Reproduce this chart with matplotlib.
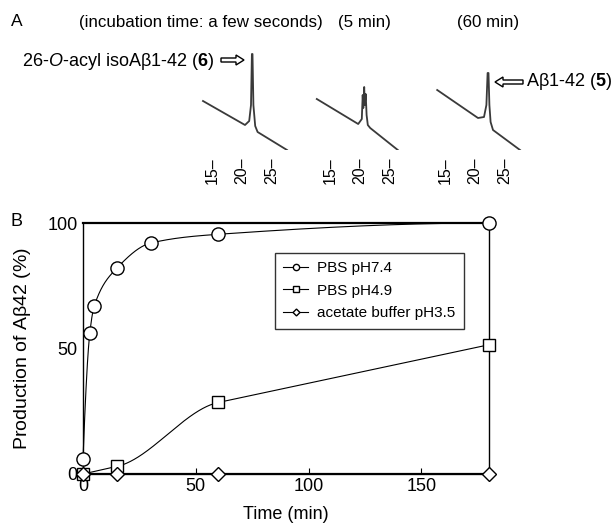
import numpy as np
import matplotlib
matplotlib.use("Agg")
import matplotlib.pyplot as plt
import matplotlib.patches as mpatches

plt.rcParams['font.family'] = ['Liberation Sans', 'DejaVu Sans']
plt.rcParams['mathtext.fontset'] = 'custom'
plt.rcParams['mathtext.rm'] = 'Liberation Sans'
plt.rcParams['mathtext.it'] = 'Liberation Sans:italic'
plt.rcParams['mathtext.bf'] = 'Liberation Sans:bold'

W, H = 616, 524

# panel B data (time in min, production in %)
t_pbs74 = [0, 3, 5, 15, 30, 60, 180]
y_pbs74 = [6, 56, 67, 82, 92, 95.5, 100]
t_pbs49 = [0, 15, 60, 180]
y_pbs49 = [0, 3, 28.5, 51.5]
t_acet = [0, 15, 60, 180]
y_acet = [0, 0, 0, 0]
series_labels = ['PBS pH7.4', 'PBS pH4.9', 'acetate buffer pH3.5']

# panel A chromatogram traces (retention time in min, signal in a.u.)
trace_t = [
    [13.5, 20.5, 21.2, 21.5, 21.65, 21.75, 21.9, 22.2, 22.6, 27.5],
    [12.8, 19.7, 20.3, 20.45, 20.55, 20.7, 20.8, 20.95, 21.1, 21.3, 21.7, 26.3],
    [13.7, 20.5, 21.5, 21.9, 22.1, 22.25, 22.4, 22.6, 23.0, 27.5],
]
trace_s = [
    [49, 25, 29, 45, 96, 96, 45, 24, 18, 0],
    [51, 26, 31, 55, 42, 63, 45, 56, 35, 25, 22, 0],
    [60, 32, 33, 45, 77, 77, 45, 28, 20, 0],
]
trace_xlim = [(13.0, 28.0), (12.5, 27.5), (13.0, 28.0)]
trace_left_px = [200, 315, 433]
rt_ticks = [15, 20, 25]
incubation = ['(incubation time: a few seconds)', '(5 min)', '(60 min)']


def smooth(x, y, xs, mode='pchip'):
    # monotone cubic through the points; 'min' keeps slopes flatter
    x = np.asarray(x, float)
    y = np.asarray(y, float)
    h = np.diff(x)
    d = np.diff(y) / h
    n = len(x)
    m = np.zeros(n)
    for k in range(1, n - 1):
        if d[k - 1] * d[k] > 0:
            if mode == 'min':
                m[k] = min(d[k - 1], d[k], key=abs)
            else:
                w1 = 2 * h[k] + h[k - 1]
                w2 = h[k] + 2 * h[k - 1]
                m[k] = (w1 + w2) / (w1 / d[k - 1] + w2 / d[k])

    def end(h0, h1, d0, d1):
        if mode == 'min':
            return d0
        mm = ((2 * h0 + h1) * d0 - h0 * d1) / (h0 + h1)
        if np.sign(mm) != np.sign(d0):
            mm = 0.0
        elif np.sign(d0) != np.sign(d1) and abs(mm) > 3 * abs(d0):
            mm = 3 * d0
        return mm
    m[0] = end(h[0], h[1], d[0], d[1])
    m[-1] = end(h[-1], h[-2], d[-1], d[-2])
    idx = np.clip(np.searchsorted(x, xs) - 1, 0, n - 2)
    hh = h[idx]
    t = (xs - x[idx]) / hh
    h00 = 2 * t**3 - 3 * t**2 + 1
    h10 = t**3 - 2 * t**2 + t
    h01 = -2 * t**3 + 3 * t**2
    h11 = t**3 - t**2
    return h00 * y[idx] + h10 * hh * m[idx] + h01 * y[idx + 1] + h11 * hh * m[idx + 1]


def px_rect(left, top, right, bottom):
    return [left / W, 1 - bottom / H, (right - left) / W, (bottom - top) / H]


fig = plt.figure(figsize=(W / 100, H / 100), dpi=100)

# overlay in pixel coordinates for labels and arrows
ov = fig.add_axes([0, 0, 1, 1])
ov.set_xlim(0, W)
ov.set_ylim(H, 0)
ov.axis('off')

ov.text(11, 22, 'A', fontsize=12.5, va='center', ha='left')
ov.text(10, 222, 'B', fontsize=13, va='center', ha='left')
ov.text(201, 22, incubation[0], fontsize=12.2, va='center', ha='center')
ov.text(364, 22, incubation[1], fontsize=12.2, va='center', ha='center')
ov.text(488, 22, incubation[2], fontsize=12.2, va='center', ha='center')
ov.text(214, 61, r'26-$\mathit{O}$-acyl isoA$\mathrm{\beta}$1-42 ($\mathbf{6}$)',
        fontsize=13, va='center', ha='right')
ov.text(526, 82, r'A$\mathrm{\beta}$1-42 ($\mathbf{5}$)',
        fontsize=13, va='center', ha='left')
ov.add_patch(mpatches.FancyArrow(221, 60, 23, 0, width=4, head_width=10,
                                 head_length=8, length_includes_head=True,
                                 fc='white', ec='black', lw=1))
ov.add_patch(mpatches.FancyArrow(523, 82, -28, 0, width=4, head_width=10,
                                 head_length=8, length_includes_head=True,
                                 fc='white', ec='black', lw=1))

# chromatograms
for i in range(3):
    left = trace_left_px[i]
    ax = fig.add_axes(px_rect(left, 50, left + 90, 150))
    ax.plot(trace_t[i], trace_s[i], color='#3a3a3a', lw=1.3)
    ax.set_xlim(*trace_xlim[i])
    ax.set_ylim(0, 100)
    for s in ax.spines.values():
        s.set_visible(False)
    ax.set_yticks([])
    ax.set_xticks(rt_ticks)
    ax.set_xticklabels([f'{v}\u2013' for v in rt_ticks], rotation=90,
                       fontsize=11.5, va='top')
    ax.tick_params(axis='x', length=0, pad=5)
    ax.patch.set_alpha(0)

# panel B
axb = fig.add_axes(px_rect(83, 223, 489, 474))
xs = np.linspace(0, 180, 1200)
axb.plot(xs, smooth(t_pbs74, y_pbs74, xs), color='black', lw=0.8, clip_on=False)
axb.plot(xs, smooth(t_pbs49, y_pbs49, xs, mode='min'), color='black', lw=0.8,
         clip_on=False)
axb.plot(t_acet, y_acet, color='black', lw=0.8, clip_on=False)
mk = dict(ls='none', mfc='white', mec='black', mew=1.0, clip_on=False, zorder=5)
axb.plot(t_pbs74, y_pbs74, marker='o', ms=9.5, **mk)
axb.plot(t_pbs49, y_pbs49, marker='s', ms=8.5, **mk)
axb.plot(t_acet, y_acet, marker='D', ms=7.5, **mk)

axb.set_xlim(0, 180)
axb.set_ylim(0, 100)
axb.set_xticks([0, 50, 100, 150])
axb.set_yticks([0, 50, 100])
axb.tick_params(direction='in', length=4, labelsize=13, pad=3)
axb.tick_params(axis='y', length=0, pad=4)
for side in ['top', 'bottom']:
    axb.spines[side].set_linewidth(1.6)
for side in ['left', 'right']:
    axb.spines[side].set_linewidth(1.0)
axb.set_xlabel('Time (min)', fontsize=13, labelpad=8)
axb.set_ylabel(r'Production of A$\mathrm{\beta}$42 (%)', fontsize=14, labelpad=10)

handles = [
    plt.Line2D([], [], color='black', lw=0.8, marker='o', ms=4.5, mfc='white', mec='black'),
    plt.Line2D([], [], color='black', lw=0.8, marker='s', ms=4, mfc='white', mec='black'),
    plt.Line2D([], [], color='black', lw=0.8, marker='D', ms=3.5, mfc='white', mec='black'),
]
leg = axb.legend(handles, series_labels, loc='upper left',
                 bbox_to_anchor=((275 - 83) / 406, (474 - 253) / 251),
                 fontsize=11, frameon=True, fancybox=False, handlelength=1.6,
                 handletextpad=0.6, borderpad=0.55, labelspacing=0.55,
                 borderaxespad=0)
leg.get_frame().set_edgecolor('black')
leg.get_frame().set_linewidth(1.0)

fig.savefig('out.png', dpi=100)
